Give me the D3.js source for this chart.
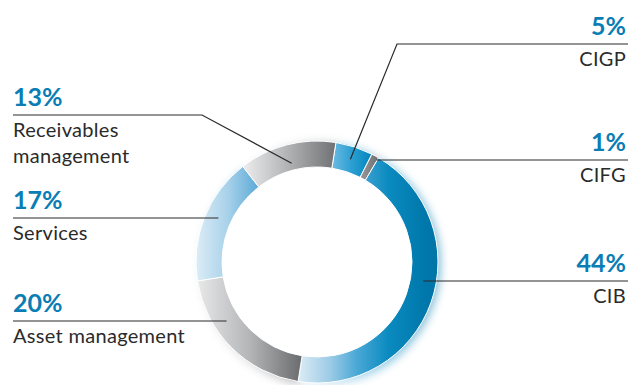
<!DOCTYPE html>
<html>
<head>
<meta charset="utf-8">
<script src="https://cdn.jsdelivr.net/npm/d3@7/dist/d3.min.js"></script>
<style>
  html, body { margin: 0; padding: 0; background: #ffffff; }
  svg { display: block; }
  .pct { font-family: Lato, "Open Sans", sans-serif; font-weight: 700; fill: #0a7db5; }
  .name { font-family: Lato, "Open Sans", sans-serif; font-weight: 400; fill: #2b2b2b; letter-spacing: 0.3px; }
</style>
</head>
<body>
<svg id="chart" width="629" height="385"></svg>
<script>
// Revenue split by business line (percent of total), clockwise from the top
const segments = ["CIGP", "CIFG", "CIB", "Asset management", "Services", "Receivables management"];
const shares = [5, 1, 44, 20, 17, 13];
const shareLabels = ["5%", "1%", "44%", "20%", "17%", "13%"];
const nameLines = [["CIGP"], ["CIFG"], ["CIB"], ["Asset management"], ["Services"], ["Receivables", "management"]];

// Gradient stops for each segment (light at left, dark at right)
const segmentStops = [
  [[0, "#6cbbe3"], [0.5, "#2b9fd2"], [1, "#0085bd"]],
  [[0, "#9a9a9c"], [1, "#6d6e71"]],
  [[0, "#dcecf6"], [0.23, "#9ccbe6"], [0.42, "#4aa8d6"], [0.65, "#0a8abf"], [0.9, "#0078ab"], [1, "#0074a7"]],
  [[0, "#e8e8e9"], [0.5, "#b4b5b7"], [1, "#6a6b6e"]],
  [[0, "#dcecf6"], [0.5, "#a9d2ea"], [1, "#5aa9d7"]],
  [[0, "#ededee"], [0.45, "#b6b7b9"], [1, "#707174"]]
];

// Label layout: side of the chart and y of the leader line
const labelLayout = [
  { side: "right", y: 44, anchorR: 108, bend: 397 },
  { side: "right", y: 160, anchorR: 118 },
  { side: "right", y: 281, anchorR: 108 },
  { side: "left", y: 321, anchorR: 108 },
  { side: "left", y: 218, anchorR: 108 },
  { side: "left", y: 115, anchorR: 102, bend: 202 }
];

const W = 629, H = 385;
const cx = 317, cy = 262, rOuter = 121, rInner = 95;

const svg = d3.select("#chart");
const defs = svg.append("defs");

segmentStops.forEach((stops, i) => {
  const g = defs.append("linearGradient")
    .attr("id", "seg" + i)
    .attr("x1", 0).attr("y1", 0).attr("x2", 1).attr("y2", 0);
  stops.forEach(([o, c]) => g.append("stop").attr("offset", o).attr("stop-color", c));
});

const glow = defs.append("filter").attr("id", "glow")
  .attr("x", "-30%").attr("y", "-30%").attr("width", "160%").attr("height", "160%");
glow.append("feGaussianBlur").attr("stdDeviation", 4);

const pie = d3.pie().sort(null).value(d => d)
  .startAngle(9 * Math.PI / 180)
  .endAngle(9 * Math.PI / 180 + 2 * Math.PI);
const arcs = pie(shares);
const arc = d3.arc().innerRadius(rInner).outerRadius(rOuter);

const ring = svg.append("g").attr("transform", `translate(${cx},${cy})`);

// soft halo behind the ring
ring.append("g")
  .attr("transform", "translate(2,2)")
  .attr("opacity", 0.45)
  .attr("filter", "url(#glow)")
  .selectAll("path")
  .data(arcs)
  .join("path")
  .attr("d", d3.arc().innerRadius(rInner + 6).outerRadius(rOuter + 1))
  .attr("fill", (d, i) => `url(#seg${i})`);

ring.append("circle").attr("r", rInner + 2).attr("fill", "#ffffff");

ring.selectAll("path.seg")
  .data(arcs)
  .join("path")
  .attr("class", "seg")
  .attr("d", arc)
  .attr("fill", (d, i) => `url(#seg${i})`)
  .attr("stroke", "#ffffff")
  .attr("stroke-width", 1);

// leader lines and labels
const labels = svg.append("g");
arcs.forEach((a, i) => {
  const L = labelLayout[i];
  const mid = (a.startAngle + a.endAngle) / 2;
  let pts;
  if (L.bend !== undefined) {
    const ax = cx + L.anchorR * Math.sin(mid);
    const ay = cy - L.anchorR * Math.cos(mid);
    pts = L.side === "right"
      ? [[ax, ay], [L.bend, L.y], [628, L.y]]
      : [[13, L.y], [L.bend, L.y], [ax, ay]];
  } else {
    const dy = L.y - cy;
    const dx = Math.sqrt(L.anchorR * L.anchorR - dy * dy);
    pts = L.side === "right"
      ? [[cx + dx, L.y], [628, L.y]]
      : [[13, L.y], [cx - dx, L.y]];
  }
  labels.append("path")
    .attr("d", d3.line()(pts))
    .attr("fill", "none")
    .attr("stroke", "#2b2b2b")
    .attr("stroke-width", 1.2);

  const tx = L.side === "right" ? 626 : 13;
  const anchor = L.side === "right" ? "end" : "start";
  labels.append("text")
    .attr("class", "pct")
    .attr("x", tx).attr("y", L.y - 9)
    .attr("text-anchor", anchor)
    .attr("font-size", 25)
    .text(shareLabels[i]);
  nameLines[i].forEach((line, j) => {
    labels.append("text")
      .attr("class", "name")
      .attr("x", tx).attr("y", L.y + 22 + j * 26)
      .attr("text-anchor", anchor)
      .attr("font-size", 20)
      .text(line);
  });
});
</script>
</body>
</html>
